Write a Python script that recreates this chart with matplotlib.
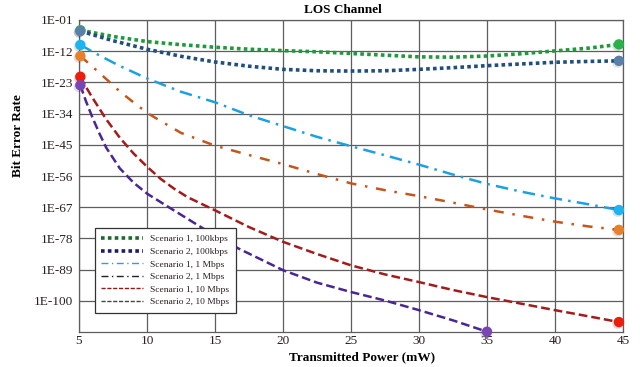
import matplotlib

matplotlib.use("Agg")
import matplotlib.pyplot as plt
import matplotlib.patheffects as pe
from matplotlib.lines import Line2D

# log10(BER) for each scenario
X_S1_100K = [5.1, 7.5, 10, 12.5, 15, 17.5, 20, 22.5, 25, 27.5, 30, 32.5, 35, 37.5, 40, 42.5, 44.7]
Y_S1_100K = [-4.6, -6.8, -8.6, -9.7, -10.6, -11.3, -11.8, -12.2, -12.8, -13.4, -14.0, -14.1, -13.7, -12.9, -11.9, -10.9, -9.6]

X_S2_100K = [5.1, 7.5, 10, 12.5, 15, 17.5, 20, 22.5, 25, 27.5, 30, 32.5, 35, 37.5, 40, 42.5, 44.7]
Y_S2_100K = [-4.9, -8.3, -11.3, -13.8, -15.8, -17.3, -18.4, -18.9, -19.0, -18.9, -18.4, -17.8, -17.1, -16.5, -15.9, -15.6, -15.4]

X_S1_1M = [5.1, 6.5, 8, 10, 12.5, 15, 17.5, 20, 22.5, 25, 27.5, 30, 32.5, 35, 37.5, 40, 42.5, 44.7]
Y_S1_1M = [-9.8, -13.5, -17.2, -21.6, -26.3, -30.0, -34.6, -38.4, -42.2, -45.5, -48.7, -52.0, -55.5, -58.8, -61.5, -63.9, -66.0, -68.0]

X_S2_1M = [5.1, 6, 7, 8, 9, 10, 11, 12.5, 15, 17.5, 20, 22.5, 25, 27.5, 30, 32.5, 35, 37.5, 40, 42.5, 44.7]
Y_S2_1M = [-13.7, -17.5, -21.8, -26.2, -30.0, -33.7, -36.6, -40.8, -45.3, -48.6, -51.8, -55.3, -58.6, -61.0, -63.1, -65.4, -67.8, -70.0, -72.1, -73.8, -75.0]

X_S1_10M = [5.1, 5.5, 6, 7, 8, 9, 10, 11, 12, 13, 15, 17.5, 20, 22.5, 25, 27.5, 30, 32.5, 35, 37.5, 40, 42.5, 44.7]
Y_S1_10M = [-21.0, -24.5, -28.5, -36.0, -42.5, -48.0, -52.7, -57.0, -60.5, -63.5, -68.1, -74.0, -79.2, -83.5, -87.5, -90.7, -93.4, -96.2, -98.7, -101.0, -103.3, -105.5, -107.5]

X_S2_10M = [5.1, 5.5, 6, 6.5, 7, 8, 9, 10, 11.6, 14.2, 16.7, 20, 22.5, 25, 27.5, 30, 32.5, 35]
Y_S2_10M = [-24.0, -29.5, -35.5, -41.0, -46.0, -53.3, -58.3, -62.2, -67.0, -74.7, -81.5, -89.2, -93.6, -96.9, -99.9, -103.3, -106.9, -110.9]

LABELS = [
    "Scenario 1, 100kbps",
    "Scenario 2, 100kbps",
    "Scenario 1, 1 Mbps",
    "Scenario 2, 1 Mbps",
    "Scenario 1, 10 Mbps",
    "Scenario 2, 10 Mbps",
]
X_TICKS = [5, 10, 15, 20, 25, 30, 35, 40, 45]
Y_TICKS = [-1, -12, -23, -34, -45, -56, -67, -78, -89, -100]

SERIES = [
    (X_S1_100K, Y_S1_100K, "#1f9a3b", "#27b34a", 2.6, (0, (1, 0.9))),
    (X_S2_100K, Y_S2_100K, "#1f4f7f", "#5a7fa8", 2.6, (0, (1, 0.9))),
    (X_S1_1M, Y_S1_1M, "#1ba1e2", "#1db4f2", 1.8, (0, (5, 2.5, 1, 2.5))),
    (X_S2_1M, Y_S2_1M, "#c4561c", "#e6802a", 1.8, (0, (4, 3.5, 1, 3.5))),
    (X_S1_10M, Y_S1_10M, "#a31b1b", "#f01c0a", 1.8, (0, (3.5, 1.6))),
    (X_S2_10M, Y_S2_10M, "#4a2694", "#7a45b5", 1.8, (0, (3.5, 1.6))),
]

# legend swatches in the source don't use the same colours as the curves
LEGEND_STYLES = [
    ("#1b6b2a", 2.6, (0, (1, 0.9))),
    ("#1a1a6e", 2.6, (0, (1, 0.9))),
    ("#3b9ad6", 1.0, (0, (5, 2.5, 1, 2.5))),
    ("#222222", 1.0, (0, (5, 2.5, 1, 2.5))),
    ("#8b1a1a", 1.0, (0, (3, 1.2))),
    ("#444444", 1.0, (0, (3, 1.2))),
]

SERIF = ["Liberation Serif", "DejaVu Serif"]
TEXT_COLOR = "#2a1f1f"


def main() -> None:
    plt.rcParams["font.family"] = SERIF
    fig = plt.figure(figsize=(6.4, 3.67), dpi=100)
    ax = fig.add_axes([79 / 640, 35 / 367, 544 / 640, 312 / 367])

    shadow = [pe.SimplePatchShadow(offset=(-1.0, -1.2), alpha=0.15), pe.Normal()]
    for xs, ys, color, mcolor, lw, ls in SERIES:
        ax.plot(xs, ys, color=color, linewidth=lw, linestyle=ls,
                dash_capstyle="butt", zorder=3)
    # end-point markers; later series sit on top, so the green start dot hides under the blue one
    for xs, ys, color, mcolor, lw, ls in SERIES:
        ax.plot([xs[0], xs[-1]], [ys[0], ys[-1]], linestyle="none", marker="o",
                markersize=7.5, color=mcolor, markeredgewidth=0,
                clip_on=False, zorder=4, path_effects=shadow)

    ax.set_xlim(5, 45)
    ax.set_ylim(-111, -1)
    ax.set_xticks(X_TICKS)
    ax.set_xticklabels([str(v) for v in X_TICKS])
    ax.set_yticks(Y_TICKS)
    ax.set_yticklabels([f"1E-{abs(v):02d}" for v in Y_TICKS])
    ax.tick_params(length=0, labelsize=9.5, labelcolor=TEXT_COLOR)
    ax.tick_params(axis="x", pad=2.5)
    ax.tick_params(axis="y", pad=4)
    ax.grid(True, color="#5e5e5e", linewidth=0.9)
    ax.set_axisbelow(True)
    for spine in ax.spines.values():
        spine.set_color("#5e5e5e")
        spine.set_linewidth(0.9)

    handles = [
        Line2D([0], [0], color=c, linewidth=lw, linestyle=ls, dash_capstyle="butt")
        for c, lw, ls in LEGEND_STYLES
    ]
    leg = ax.legend(handles, LABELS, loc="lower left", bbox_to_anchor=(0.029, 0.061),
                    fontsize=6.8, frameon=True, fancybox=False, framealpha=1,
                    edgecolor="#333333", handlelength=4.4, handletextpad=0.8,
                    labelspacing=0.42, borderpad=0.7, borderaxespad=0)
    leg.get_frame().set_linewidth(0.9)
    for text in leg.get_texts():
        text.set_color(TEXT_COLOR)

    fig.text(343 / 640, 1 - 10 / 367, "LOS Channel", ha="center", va="center",
             fontsize=9.5, fontweight="bold")
    fig.text(362 / 640, 1 - 357 / 367, "Transmitted Power (mW)", ha="center",
             va="center", fontsize=9.5, fontweight="bold")
    fig.text(18 / 640, 1 - 136 / 367, "Bit Error Rate", ha="center", va="center",
             rotation=90, fontsize=9.5, fontweight="bold")

    fig.savefig("out.png", dpi=100)
    plt.close(fig)


if __name__ == "__main__":
    main()
